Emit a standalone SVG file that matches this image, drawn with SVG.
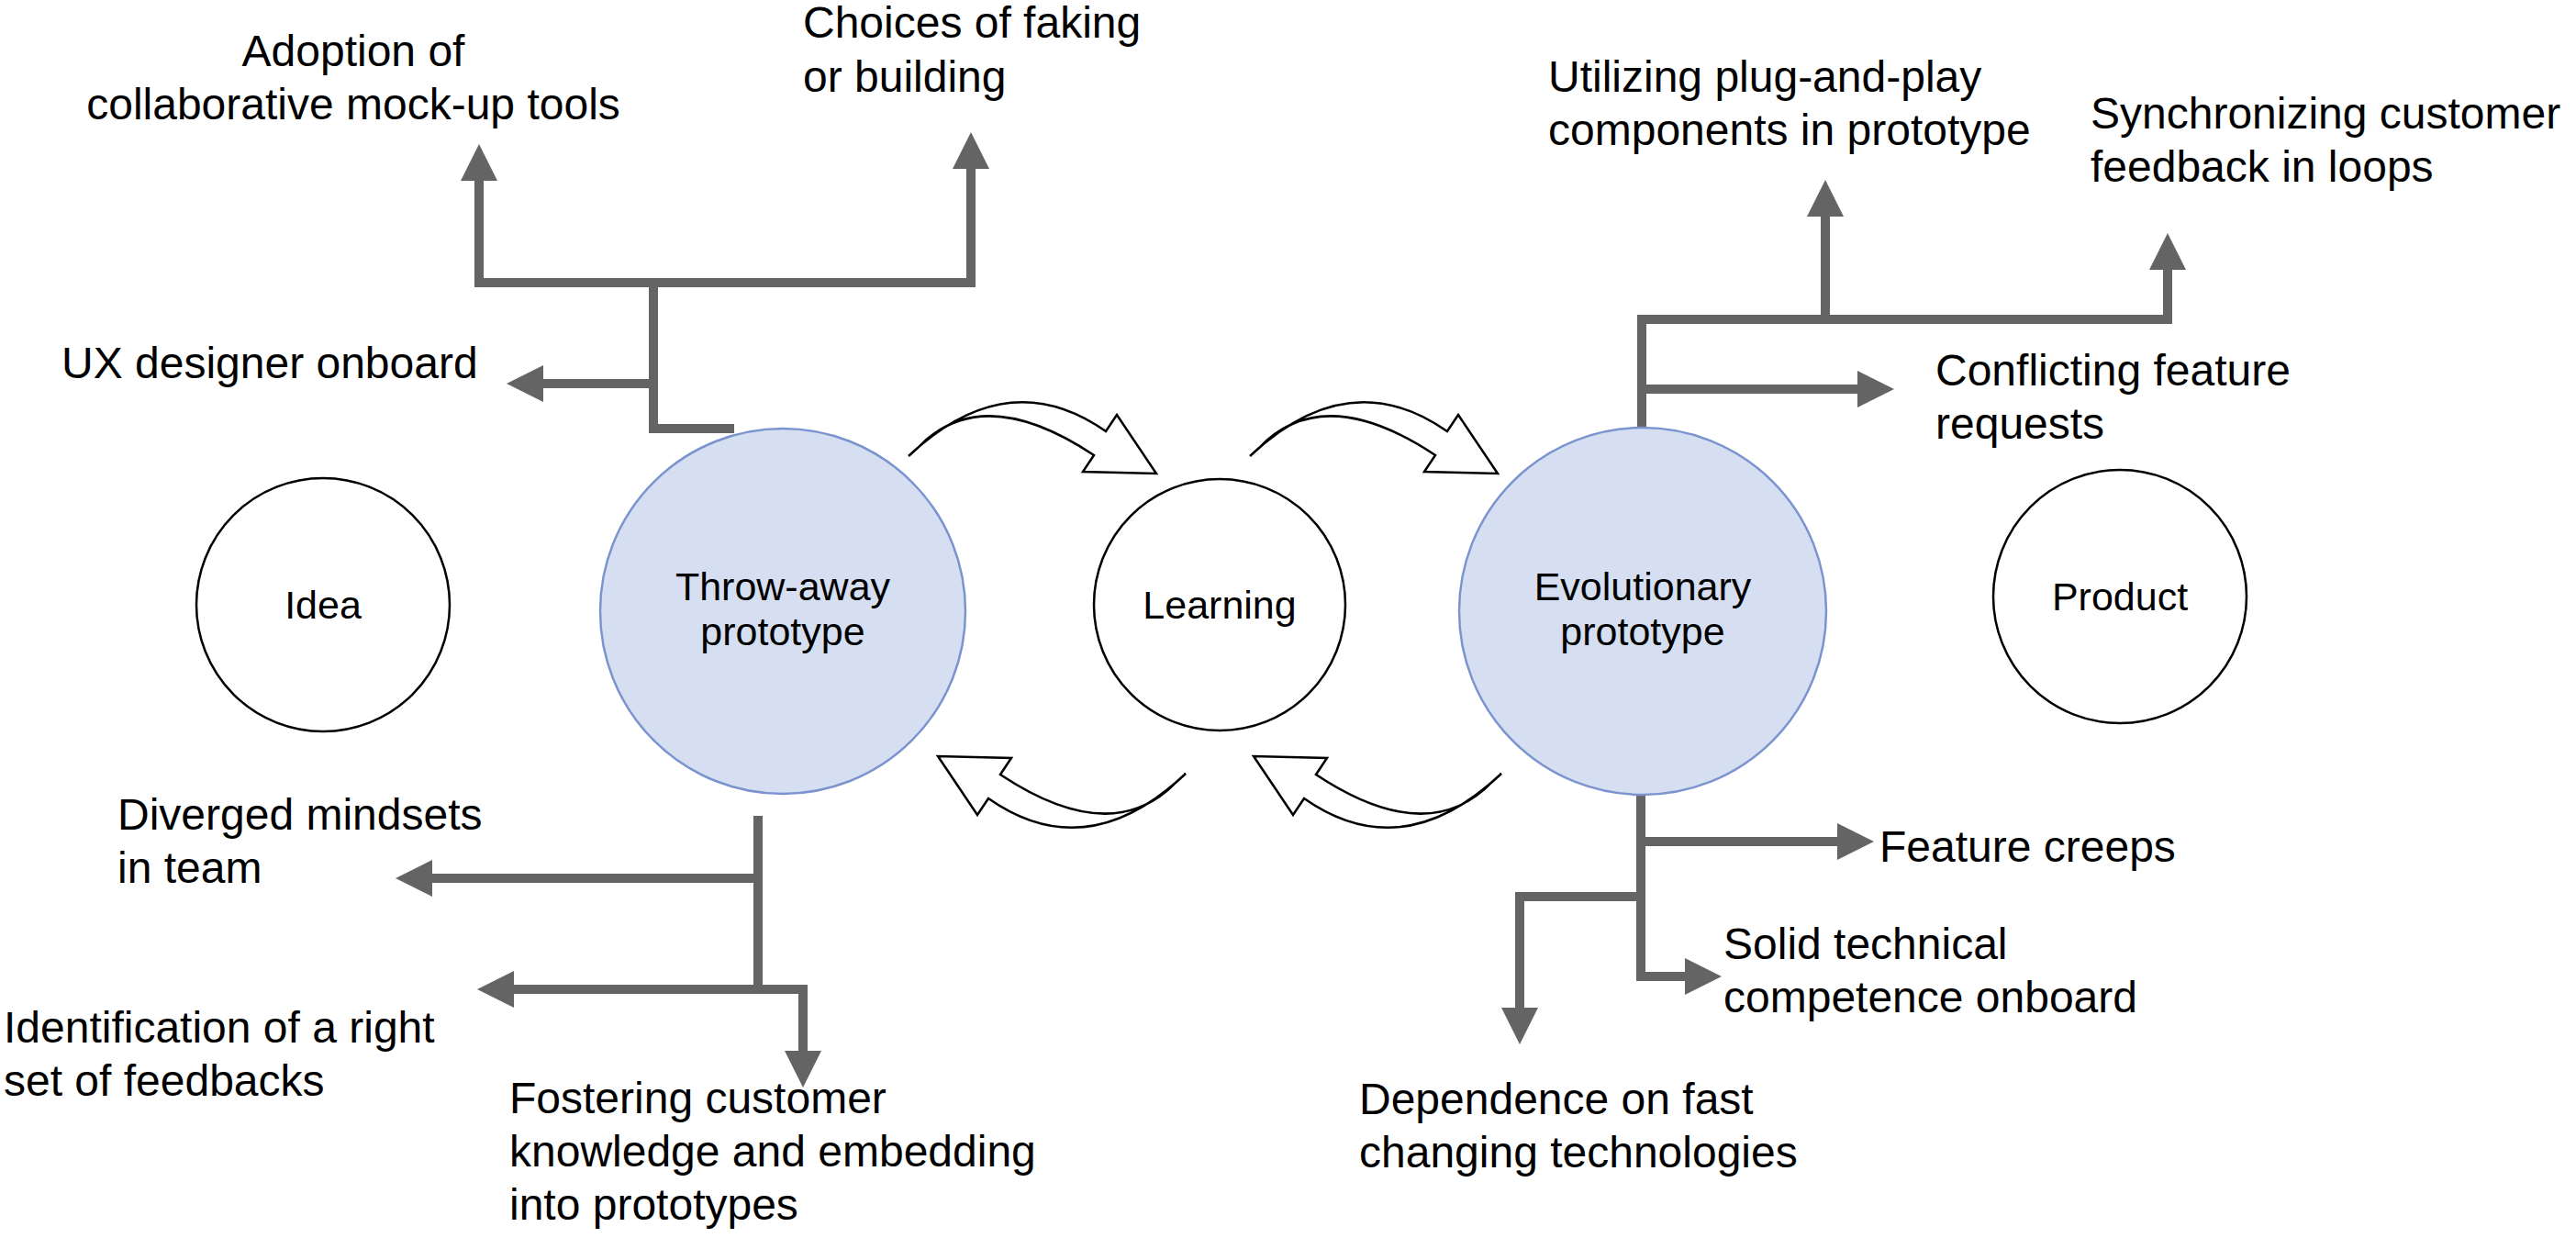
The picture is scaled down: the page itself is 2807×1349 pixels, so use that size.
<svg xmlns="http://www.w3.org/2000/svg" width="2807" height="1349" viewBox="0 0 2807 1349">
<style>
  text { font-family: "Liberation Sans", Arial, Helvetica, sans-serif; fill: #000; }
  .lbl { font-size: 48px; }
  .ctext { font-size: 43px; text-anchor: middle; }
  .plain { fill: #ffffff; stroke: #000000; stroke-width: 2.5; }
  .blue { fill: #D5DFF1; stroke: #7B94CF; stroke-width: 2.5; }
  .conn { fill: none; stroke: #646464; stroke-width: 10; stroke-linejoin: miter; stroke-linecap: butt; }
  .block { fill: #ffffff; stroke: #000000; stroke-width: 2.5; stroke-linejoin: miter; }
</style>
<defs>
  <marker id="ah" viewBox="0 0 40 40" markerUnits="userSpaceOnUse" markerWidth="40" markerHeight="40" refX="0" refY="20" orient="auto">
    <path d="M0,0 L40,20 L0,40 Z" fill="#646464"/>
  </marker>
  <path id="curv" d="M 990,497 Q 1098,395 1205,470 L 1217,452 L 1260,516 L 1180,514 L 1192,496 Q 1070,415 1000,488 Z"/>
</defs>
<rect width="2807" height="1349" fill="#ffffff"/>

<g id="connectors">
  <path class="conn" d="M 800,467 H 712 V 308"/>
  <path class="conn" d="M 712,308 H 522 V 197" marker-end="url(#ah)"/>
  <path class="conn" d="M 712,308 H 1058 V 184" marker-end="url(#ah)"/>
  <path class="conn" d="M 712,418 H 592" marker-end="url(#ah)"/>

  <path class="conn" d="M 826,889 V 1078"/>
  <path class="conn" d="M 826,957 H 471" marker-end="url(#ah)"/>
  <path class="conn" d="M 831,1078 H 560" marker-end="url(#ah)"/>
  <path class="conn" d="M 821,1078 H 875 V 1145" marker-end="url(#ah)"/>

  <path class="conn" d="M 1789,467 V 348 H 2362 V 294" marker-end="url(#ah)"/>
  <path class="conn" d="M 1989,348 V 236" marker-end="url(#ah)"/>
  <path class="conn" d="M 1789,424 H 2024" marker-end="url(#ah)"/>

  <path class="conn" d="M 1788,865 V 1064 H 1836" marker-end="url(#ah)"/>
  <path class="conn" d="M 1788,917 H 2002" marker-end="url(#ah)"/>
  <path class="conn" d="M 1788,977 H 1656 V 1098" marker-end="url(#ah)"/>

  <use href="#curv" class="block"/>
  <use href="#curv" class="block" transform="translate(372,0)"/>
  <use href="#curv" class="block" transform="rotate(180,1141,670)"/>
  <use href="#curv" class="block" transform="translate(344,0) rotate(180,1141,670)"/>
</g>

<g id="node-idea">
  <circle class="plain" cx="352" cy="659" r="138"/>
  <text class="ctext" x="352" y="674">Idea</text>
</g>
<g id="node-throwaway">
  <circle class="blue" cx="853" cy="666" r="199"/>
  <text class="ctext" x="853" y="654">Throw-away</text>
  <text class="ctext" x="853" y="703">prototype</text>
</g>
<g id="node-learning">
  <circle class="plain" cx="1329" cy="659" r="137"/>
  <text class="ctext" x="1329" y="674">Learning</text>
</g>
<g id="node-evolutionary">
  <circle class="blue" cx="1790" cy="666" r="200"/>
  <text class="ctext" x="1790" y="654">Evolutionary</text>
  <text class="ctext" x="1790" y="703">prototype</text>
</g>
<g id="node-product">
  <circle class="plain" cx="2310" cy="650" r="138"/>
  <text class="ctext" x="2310" y="665">Product</text>
</g>

<g id="label-adoption">
  <text class="lbl" x="385" y="72" text-anchor="middle">Adoption of</text>
  <text class="lbl" x="385" y="130" text-anchor="middle">collaborative mock-up tools</text>
</g>
<g id="label-choices">
  <text class="lbl" x="875" y="41">Choices of faking</text>
  <text class="lbl" x="875" y="100">or building</text>
</g>
<g id="label-ux">
  <text class="lbl" x="67" y="412">UX designer onboard</text>
</g>
<g id="label-diverged">
  <text class="lbl" x="128" y="904">Diverged mindsets</text>
  <text class="lbl" x="128" y="962">in team</text>
</g>
<g id="label-identification">
  <text class="lbl" x="4" y="1136">Identification of a right</text>
  <text class="lbl" x="4" y="1194">set of feedbacks</text>
</g>
<g id="label-fostering">
  <text class="lbl" x="555" y="1213">Fostering customer</text>
  <text class="lbl" x="555" y="1271">knowledge and embedding</text>
  <text class="lbl" x="555" y="1329">into prototypes</text>
</g>
<g id="label-utilizing">
  <text class="lbl" x="1687" y="100">Utilizing plug-and-play</text>
  <text class="lbl" x="1687" y="158">components in prototype</text>
</g>
<g id="label-synchronizing">
  <text class="lbl" x="2278" y="140">Synchronizing customer</text>
  <text class="lbl" x="2278" y="198">feedback in loops</text>
</g>
<g id="label-conflicting">
  <text class="lbl" x="2109" y="420">Conflicting feature</text>
  <text class="lbl" x="2109" y="478">requests</text>
</g>
<g id="label-feature-creeps">
  <text class="lbl" x="2048" y="939">Feature creeps</text>
</g>
<g id="label-solid">
  <text class="lbl" x="1878" y="1045">Solid technical</text>
  <text class="lbl" x="1878" y="1103">competence onboard</text>
</g>
<g id="label-dependence">
  <text class="lbl" x="1481" y="1214">Dependence on fast</text>
  <text class="lbl" x="1481" y="1272">changing technologies</text>
</g>
</svg>
